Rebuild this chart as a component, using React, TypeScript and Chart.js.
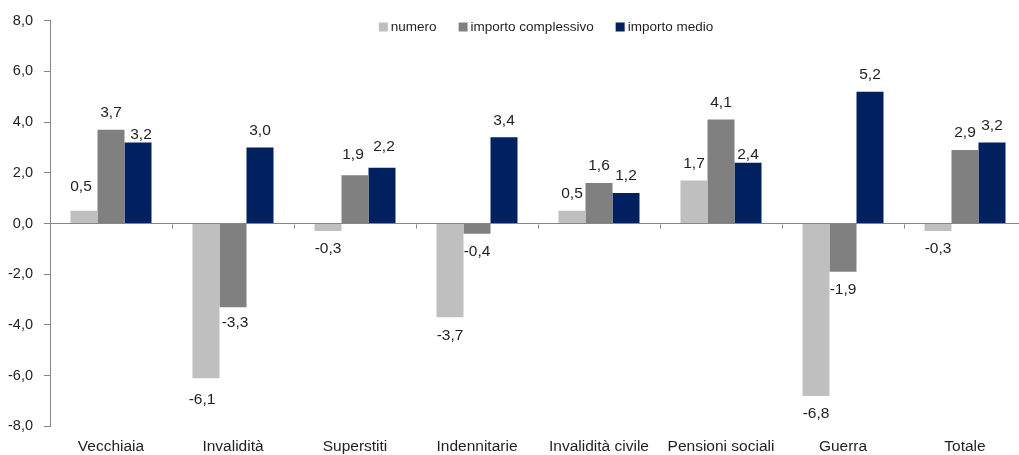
import React, { useEffect, useRef } from "react";
import { Chart, registerables } from "chart.js";

Chart.register(...registerables);

const categories = [
  "Vecchiaia",
  "Invalidità",
  "Superstiti",
  "Indennitarie",
  "Invalidità civile",
  "Pensioni sociali",
  "Guerra",
  "Totale",
];
const seriesNames = ["numero", "importo complessivo", "importo medio"];
const numero = [0.5, -6.1, -0.3, -3.7, 0.5, 1.7, -6.8, -0.3];
const importoComplessivo = [3.7, -3.3, 1.9, -0.4, 1.6, 4.1, -1.9, 2.9];
const importoMedio = [3.2, 3.0, 2.2, 3.4, 1.2, 2.4, 5.2, 3.2];
const yMin = -8;
const yMax = 8;
const yStep = 2;

const colors = ["#BFBFBF", "#808080", "#002060"];
const FONT = "'Liberation Sans', Arial, sans-serif";
const TEXT = "#1f1f1f";
const AXIS = "#868686";

// small hand nudges of value labels (datasetIndex-index -> [dx, dy])
const labelNudges: Record<string, [number, number]> = {
  "0-0": [-3, -7],
  "2-0": [3, 9],
  "2-5": [0, 9],
  "1-2": [-2, -4],
  "2-2": [2, -4],
  "0-1": [-4, 4],
  "1-1": [2, -2],
};

const fmt = (v: number) => v.toFixed(1).replace(".", ",");

const valueLabels = {
  id: "valueLabels",
  afterDatasetsDraw(chart: any) {
    const ctx = chart.ctx;
    ctx.save();
    ctx.font = `15.5px ${FONT}`;
    ctx.fillStyle = TEXT;
    ctx.textAlign = "center";
    ctx.textBaseline = "middle";
    chart.data.datasets.forEach((ds: any, di: number) => {
      const meta = chart.getDatasetMeta(di);
      meta.data.forEach((el: any, i: number) => {
        const v = ds.data[i];
        const nudge = labelNudges[`${di}-${i}`] || [0, 0];
        const y = v >= 0 ? el.y - 17 : el.y + 18;
        ctx.fillText(fmt(v), el.x + nudge[0], y + nudge[1]);
      });
    });
    ctx.restore();
  },
};

const zeroTicks = {
  id: "zeroTicks",
  afterDatasetsDraw(chart: any) {
    const ctx = chart.ctx;
    const xs = chart.scales.x;
    const ys = chart.scales.y;
    const y0 = Math.round(ys.getPixelForValue(0)) + 0.5;
    ctx.save();
    ctx.strokeStyle = AXIS;
    ctx.lineWidth = 1;
    for (let i = 1; i < categories.length; i++) {
      const x = Math.round((xs.getPixelForValue(i - 1) + xs.getPixelForValue(i)) / 2) + 0.5;
      ctx.beginPath();
      ctx.moveTo(x, y0);
      ctx.lineTo(x, y0 + 4);
      ctx.stroke();
    }
    ctx.restore();
  },
};

const customLegend = {
  id: "customLegend",
  afterDraw(chart: any) {
    const ctx = chart.ctx;
    const area = chart.chartArea;
    ctx.save();
    ctx.font = `13.5px ${FONT}`;
    ctx.textBaseline = "middle";
    ctx.textAlign = "left";
    const box = 9;
    const gapText = 3;
    const gapItem = 22;
    const items = chart.data.datasets.map((ds: any) => ({
      label: ds.label,
      color: ds.backgroundColor,
      w: box + gapText + ctx.measureText(ds.label).width,
    }));
    const total = items.reduce((s: number, it: any) => s + it.w, 0) + gapItem * (items.length - 1);
    let x = (area.left + area.right) / 2 + 8 - total / 2;
    const cy = 27;
    items.forEach((it: any) => {
      ctx.fillStyle = it.color;
      ctx.fillRect(x, cy - box / 2, box, box);
      ctx.fillStyle = TEXT;
      ctx.fillText(it.label, x + box + gapText, cy);
      x += it.w + gapItem;
    });
    ctx.restore();
  },
};

export default function App() {
  const ref = useRef<HTMLCanvasElement>(null);

  useEffect(() => {
    if (!ref.current) return;
    const chart = new Chart(ref.current, {
      type: "bar",
      data: {
        labels: categories,
        datasets: [
          { label: seriesNames[0], data: numero, backgroundColor: colors[0] },
          { label: seriesNames[1], data: importoComplessivo, backgroundColor: colors[1] },
          { label: seriesNames[2], data: importoMedio, backgroundColor: colors[2] },
        ],
      },
      options: {
        animation: false,
        responsive: false,
        maintainAspectRatio: false,
        devicePixelRatio: 1,
        layout: { padding: { top: 20.7, right: 4, left: 0, bottom: 0 } },
        datasets: {
          bar: { categoryPercentage: 0.664, barPercentage: 1, borderWidth: 0 },
        },
        plugins: {
          legend: { display: false },
          tooltip: { enabled: false },
        },
        scales: {
          x: {
            grid: { display: false, drawTicks: false },
            border: { display: false },
            ticks: {
              font: { family: FONT, size: 15.5 },
              color: TEXT,
              padding: 11,
              maxRotation: 0,
              autoSkip: false,
            },
            afterFit: (s: any) => {
              s.height = 28.7;
            },
          },
          y: {
            min: yMin,
            max: yMax,
            ticks: {
              stepSize: yStep,
              font: { family: FONT, size: 14.5 },
              color: TEXT,
              padding: 11,
              callback: (v: any) => fmt(Number(v)),
            },
            grid: {
              color: (c: any) => (c.tick && c.tick.value === 0 ? AXIS : "rgba(0,0,0,0)"),
              tickColor: AXIS,
              tickLength: 6,
              lineWidth: 1,
            },
            border: { display: true, color: AXIS },
            afterFit: (s: any) => {
              s.width = 50;
            },
          },
        },
      },
      plugins: [valueLabels, zeroTicks, customLegend],
    });
    return () => chart.destroy();
  }, []);

  return (
    <div
      style={{
        position: "absolute",
        left: 0,
        top: 0,
        width: 1019,
        height: 455,
        overflow: "hidden",
        background: "#fff",
      }}
    >
      <canvas ref={ref} width={1030} height={455} style={{ display: "block" }} />
    </div>
  );
}
